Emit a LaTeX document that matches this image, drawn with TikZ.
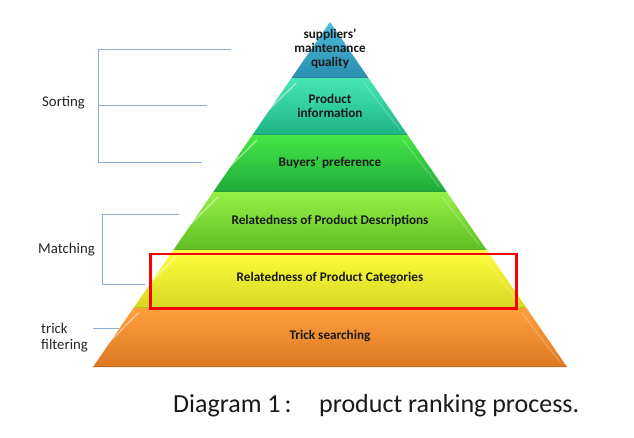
\documentclass[tikz,border=0pt]{standalone}
\usepackage{fontspec}
\setmainfont{Carlito}
\definecolor{bracketblue}{RGB}{143,170,220}
\begin{document}
\begin{tikzpicture}[x=1pt,y=-1pt,
  tierlabel/.style={font=\bfseries\fontsize{13.2}{14}\selectfont, text=black!90, align=center, inner sep=0pt},
  sidelabel/.style={font=\fontsize{14.8}{17}\selectfont, text=black!85, anchor=west, inner sep=0pt, align=left},
  captext/.style={font=\fontsize{26}{30}\selectfont, text=black!90, inner sep=0pt},
  bracketline/.style={draw=bracketblue, line width=0.8pt},
  highlight/.style={draw=white, opacity=0.45, line width=1.4pt, line cap=round}
]
\useasboundingbox (0,0) rectangle (634,438);
\fill[white] (0,0) rectangle (634,438);

% tiers
\shade[top color={rgb,255:red,80;green,190;blue,220}, bottom color={rgb,255:red,40;green,140;blue,175}]
  (330,22) -- (368.5,78) -- (291.5,78) -- cycle;
\shade[top color={rgb,255:red,70;green,230;blue,180}, bottom color={rgb,255:red,30;green,180;blue,135}]
  (291.5,78) -- (368.5,78) -- (407.6,135) -- (252.4,135) -- cycle;
\shade[top color={rgb,255:red,70;green,230;blue,70}, bottom color={rgb,255:red,30;green,170;blue,60}]
  (252.4,135) -- (407.6,135) -- (446.8,192) -- (213.2,192) -- cycle;
\shade[top color={rgb,255:red,150;green,240;blue,70}, bottom color={rgb,255:red,95;green,190;blue,35}]
  (213.2,192) -- (446.8,192) -- (486.6,250) -- (173.4,250) -- cycle;
\shade[top color={rgb,255:red,255;green,255;blue,60}, bottom color={rgb,255:red,215;green,215;blue,35}]
  (173.4,250) -- (486.6,250) -- (526.5,308) -- (133.5,308) -- cycle;
\shade[top color={rgb,255:red,255;green,160;blue,60}, bottom color={rgb,255:red,220;green,120;blue,35}]
  (133.5,308) -- (526.5,308) -- (567,367) -- (93,367) -- cycle;

% bottom shadow line of each tier
\foreach \ya/\xl/\xr in {78/291.5/368.5, 135/252.4/407.6, 192/213.2/446.8, 250/173.4/486.6, 308/133.5/526.5, 367/93/567}
  \draw[black, opacity=0.12, line width=1.2pt] (\xl+1,\ya-0.6) -- (\xr-1,\ya-0.6);

% highlights near edges
\foreach \yt/\yb in {80/133, 137/190, 194/248, 252/306, 310/365}{
  \pgfmathsetmacro{\xlt}{330-0.687*(\yt-22)+6}
  \pgfmathsetmacro{\xlb}{330-0.687*(\yb-22)+14}
  \draw[highlight] (\xlt,\yt+3) -- (\xlb,\yb-22);
  \pgfmathsetmacro{\xrt}{330+0.687*(\yt-22)-6}
  \pgfmathsetmacro{\xrb}{330+0.687*(\yb-22)-6}
  \draw[draw=white, opacity=0.25, line width=1pt] (\xrt,\yt+3) -- (\xrb,\yb-3);
}

% tier labels
\node[tierlabel] (t1) at (330,49) {suppliers'\\maintenance\\quality};
\node[tierlabel] (t2) at (330,106) {Product\\information};
\node[tierlabel] (t3) at (330,163) {Buyers' preference};
\node[tierlabel] (t4) at (330,221) {Relatedness of Product Descriptions};
\node[tierlabel] (t5) at (330,278) {Relatedness of Product Categories};
\node[tierlabel] (t6) at (330,336) {Trick searching};

% red highlight box
\draw[draw={rgb,255:red,250;green,0;blue,0}, line width=2.7pt] (150.5,254) rectangle (516.3,308.7);

% brackets
\coordinate (s1) at (98,49);
\coordinate (s1e) at (231,49);
\coordinate (s2) at (98,105);
\coordinate (s2e) at (207,105);
\coordinate (s3) at (98,162);
\coordinate (s3e) at (202,162);
\draw[bracketline] (s1e) -- (s1) -- (s3) -- (s3e);
\draw[bracketline] (s2) -- (s2e);

\coordinate (m1) at (102,214);
\coordinate (m1e) at (179,214);
\coordinate (m2) at (102,284.5);
\coordinate (m2e) at (145,284.5);
\draw[bracketline] (m1e) -- (m1) -- (m2) -- (m2e);

\coordinate (f1) at (93,328);
\coordinate (f1e) at (119,328);
\draw[bracketline] (f1) -- (f1e);

% side labels
\node[sidelabel] (sorting) at (42,103) {Sorting};
\node[sidelabel] (matching) at (38,250) {Matching};
\node[sidelabel] (trick) at (41,328) {trick};
\node[sidelabel] (filtering) at (41,346) {filtering};

% caption
\node[captext, anchor=base west] (cap1) at (173,412) {Diagram 1};
\node[captext, anchor=base] (capcolon) at (288,412) {:};
\node[captext, anchor=base west] (cap2) at (319,412) {product ranking process.};
\end{tikzpicture}
\end{document}
